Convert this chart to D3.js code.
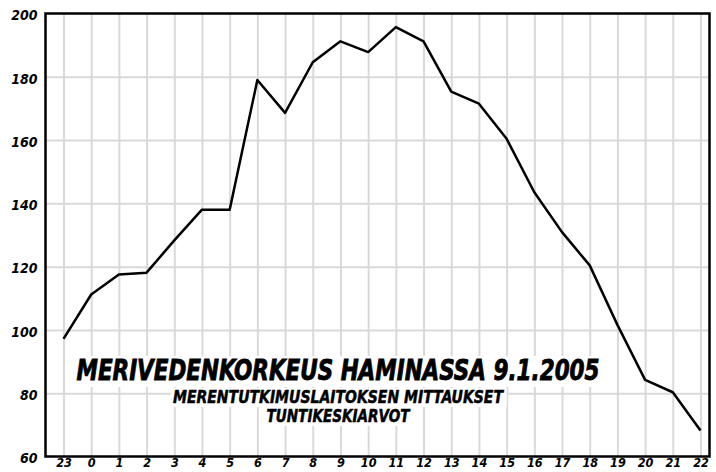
<!DOCTYPE html>
<html>
<head>
<meta charset="utf-8">
<script src="https://cdn.jsdelivr.net/npm/d3@7"></script>
<style>
  body { margin: 0; background: #fff; }
  svg text { font-family: "DejaVu Sans Condensed", "DejaVu Sans", sans-serif; font-weight: bold; font-style: oblique; }
</style>
</head>
<body>
<svg id="chart" width="716" height="472"></svg>
<script>
// hourly mean sea level, Hamina 9.1.2005
var hours = ["23", "0", "1", "2", "3", "4", "5", "6", "7", "8", "9", "10",
             "11", "12", "13", "14", "15", "16", "17", "18", "19", "20", "21", "22"];
var levels = [97.2, 111.2, 117.5, 118.1, 128.3, 138, 138, 179, 168.6, 184.6, 191.2, 187.8,
              195.7, 191.2, 175.3, 171.5, 160.4, 143.5, 130.9, 120.4, 101.6, 84.2, 80.3, 68.2];
var yTicks = [60, 80, 100, 120, 140, 160, 180, 200];
var titleLines = ["MERIVEDENKORKEUS HAMINASSA 9.1.2005",
                  "MERENTUTKIMUSLAITOKSEN MITTAUKSET",
                  "TUNTIKESKIARVOT"];

var svg = d3.select("#chart");
var frame = {left: 45.5, right: 709.5, top: 13.5, bottom: 456.5};

var x = d3.scalePoint().domain(hours).range([63.5, 700.5]);
var y = d3.scaleLinear().domain([60, 200]).range([frame.bottom, frame.top]);

// grid
svg.append("g")
    .attr("transform", "translate(0," + frame.bottom + ")")
    .call(d3.axisBottom(x).tickSize(-(frame.bottom - frame.top)).tickFormat(""))
    .call(function(g) { g.select(".domain").remove(); })
    .selectAll("line").attr("stroke", "#d9d9d9").attr("stroke-width", 2);

svg.append("g")
    .attr("transform", "translate(" + frame.left + ",0)")
    .call(d3.axisLeft(y).tickValues(yTicks.slice(1, -1)).tickSize(-(frame.right - frame.left)).tickFormat(""))
    .call(function(g) { g.select(".domain").remove(); })
    .selectAll("line").attr("stroke", "#d9d9d9").attr("stroke-width", 2);

// data line
var line = d3.line()
    .x(function(d, i) { return x(hours[i]); })
    .y(function(d) { return y(d); });

svg.append("path")
    .datum(levels)
    .attr("fill", "none")
    .attr("stroke", "#000")
    .attr("stroke-width", 2.5)
    .attr("stroke-linejoin", "round")
    .attr("d", line);

// title block with white backing
var titles = [
    {text: titleLines[0], size: 28, base: 380, len: 523},
    {text: titleLines[1], size: 18, base: 403, len: 330},
    {text: titleLines[2], size: 18, base: 422, len: 143}
];
var tg = svg.append("g");
titles.forEach(function(t) {
    var txt = tg.append("text")
        .attr("x", 338)
        .attr("y", t.base)
        .attr("text-anchor", "middle")
        .attr("font-size", t.size)
        .attr("stroke", "#000")
        .attr("stroke-width", t.size > 20 ? 0.8 : 0.5)
        .attr("textLength", t.len)
        .attr("lengthAdjust", "spacingAndGlyphs")
        .text(t.text);
    var b = txt.node().getBBox();
    tg.insert("rect", "text")
        .attr("x", b.x - 2).attr("y", b.y + 2)
        .attr("width", b.width + 4).attr("height", b.height - 2)
        .attr("fill", "#fff");
});

// frame
svg.append("rect")
    .attr("x", frame.left).attr("y", frame.top)
    .attr("width", frame.right - frame.left)
    .attr("height", frame.bottom - frame.top)
    .attr("fill", "none")
    .attr("stroke", "#000")
    .attr("stroke-width", 2.5);

// axis labels
svg.append("g")
    .attr("transform", "translate(" + frame.left + ",0)")
    .call(d3.axisLeft(y).tickValues(yTicks).tickSize(0).tickPadding(8))
    .call(function(g) { g.select(".domain").remove(); })
    .selectAll("text")
    .attr("font-size", 14)
    .attr("dy", "0.45em")
    .attr("fill", "#000");

svg.append("g")
    .attr("transform", "translate(0," + frame.bottom + ")")
    .call(d3.axisBottom(x).tickSize(0).tickPadding(2))
    .call(function(g) { g.select(".domain").remove(); })
    .selectAll("text")
    .attr("font-size", 12.5)
    .attr("fill", "#000");

svg.selectAll("g").attr("font-family", null);
</script>
</body>
</html>
